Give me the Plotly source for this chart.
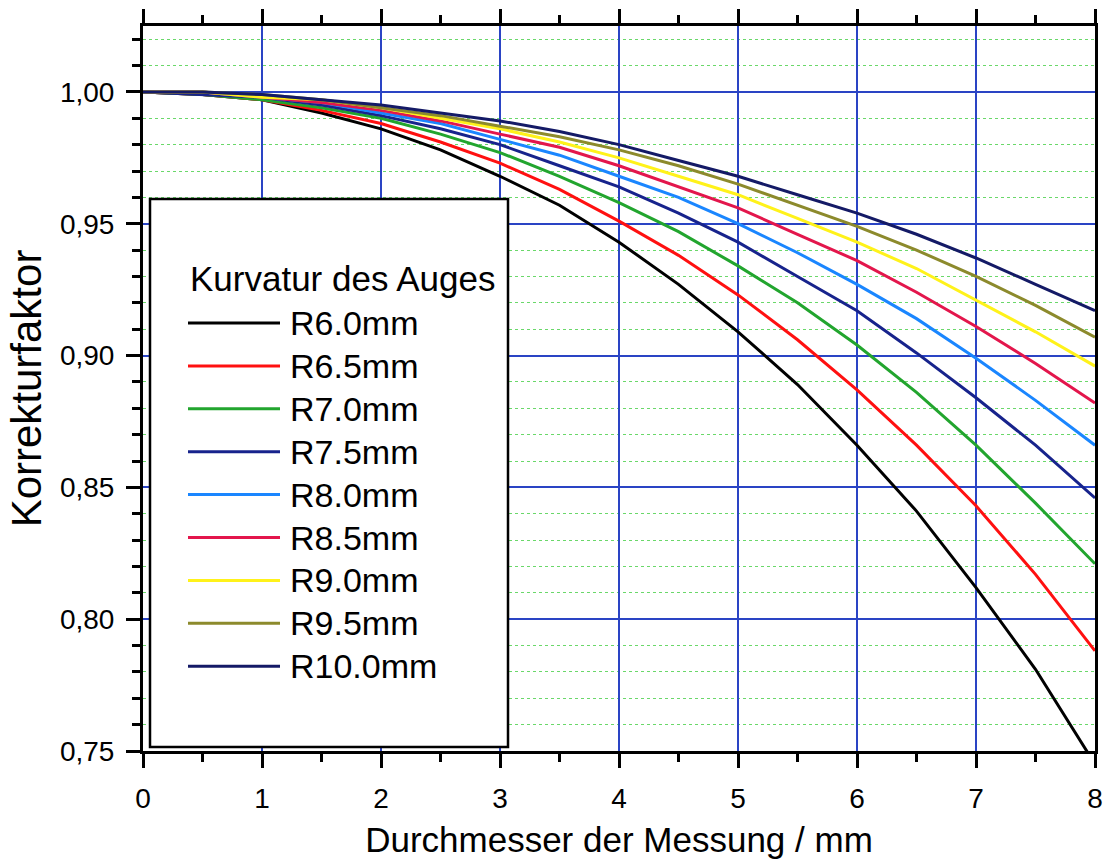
import plotly.graph_objects as go

# Measurement diameter (mm)
diameter = [0.0, 0.5, 1.0, 1.5, 2.0, 2.5, 3.0, 3.5, 4.0, 4.5, 5.0, 5.5, 6.0, 6.5, 7.0, 7.5, 8.0]

# Correction factor per eye radius of curvature
r6_0 = [1.000, 0.999, 0.997, 0.992, 0.986, 0.978, 0.968, 0.957, 0.943, 0.927, 0.909, 0.889, 0.866, 0.841, 0.812, 0.781, 0.745]
r6_5 = [1.000, 0.999, 0.997, 0.993, 0.988, 0.981, 0.973, 0.963, 0.951, 0.938, 0.923, 0.906, 0.887, 0.866, 0.843, 0.817, 0.788]
r7_0 = [1.000, 0.999, 0.997, 0.994, 0.990, 0.984, 0.977, 0.968, 0.958, 0.947, 0.934, 0.920, 0.904, 0.886, 0.866, 0.844, 0.821]
r7_5 = [1.000, 0.999, 0.998, 0.995, 0.991, 0.986, 0.980, 0.972, 0.964, 0.954, 0.943, 0.930, 0.917, 0.901, 0.884, 0.866, 0.846]
r8_0 = [1.000, 1.000, 0.998, 0.996, 0.992, 0.988, 0.982, 0.976, 0.968, 0.960, 0.950, 0.939, 0.927, 0.914, 0.899, 0.883, 0.866]
r8_5 = [1.000, 1.000, 0.998, 0.996, 0.993, 0.989, 0.984, 0.979, 0.972, 0.964, 0.956, 0.946, 0.936, 0.924, 0.911, 0.897, 0.882]
r9_0 = [1.000, 1.000, 0.998, 0.997, 0.994, 0.990, 0.986, 0.981, 0.975, 0.968, 0.961, 0.952, 0.943, 0.933, 0.921, 0.909, 0.896]
r9_5 = [1.000, 1.000, 0.999, 0.997, 0.994, 0.991, 0.987, 0.983, 0.978, 0.972, 0.965, 0.957, 0.949, 0.940, 0.930, 0.919, 0.907]
r10_0 = [1.000, 1.000, 0.999, 0.997, 0.995, 0.992, 0.989, 0.985, 0.980, 0.974, 0.968, 0.961, 0.954, 0.946, 0.937, 0.927, 0.917]

series_names = ["R6.0mm", "R6.5mm", "R7.0mm", "R7.5mm", "R8.0mm",
                "R8.5mm", "R9.0mm", "R9.5mm", "R10.0mm"]
series_values = [r6_0, r6_5, r7_0, r7_5, r8_0, r8_5, r9_0, r9_5, r10_0]
series_colors = ["#000000", "#ff1010", "#22a52e", "#17238c", "#1a86ff",
                 "#e3164c", "#fff21a", "#8c8a2c", "#141a66"]

legend_title = "Kurvatur des Auges"
x_title = "Durchmesser der Messung / mm"
y_title = "Korrekturfaktor"

FONT = "Arial, Liberation Sans, sans-serif"
GRID_BLUE = "#2a44c4"
GRID_GREEN = "#6ad86a"

fig = go.Figure()

for name, vals, col in zip(series_names, series_values, series_colors):
    fig.add_trace(go.Scatter(
        x=diameter, y=vals, mode="lines", name=name,
        line=dict(color=col, width=3), showlegend=False,
    ))

# Plot-area edges in pixels
L, R = 143, 1095
T, B = 26, 751


def px(xp):
    return (xp - L) / (R - L)


def py(yp):
    return (B - yp) / (B - T)


# Hand-built legend box with long line samples
shapes = [dict(type="rect", xref="paper", yref="paper",
               x0=px(150), x1=px(508), y0=py(747), y1=py(199),
               line=dict(color="black", width=2.5), fillcolor="white", layer="above")]
annotations = [dict(text=legend_title, xref="paper", yref="paper",
                    x=px(188), y=py(278), xanchor="left", yanchor="middle",
                    showarrow=False, font=dict(family=FONT, size=35, color="black"))]
for i, (name, col) in enumerate(zip(series_names, series_colors)):
    yc = 323 + 42.9 * i
    shapes.append(dict(type="line", xref="paper", yref="paper",
                       x0=px(188), x1=px(280), y0=py(yc), y1=py(yc),
                       line=dict(color=col, width=3), layer="above"))
    annotations.append(dict(text=name, xref="paper", yref="paper",
                            x=px(288), y=py(yc), xanchor="left", yanchor="middle",
                            showarrow=False,
                            font=dict(family=FONT, size=34, color="black")))

fig.update_layout(
    width=1107, height=859,
    margin=dict(l=L, r=1107 - R, t=T, b=859 - B),
    paper_bgcolor="white", plot_bgcolor="white",
    separators=",.",
    font=dict(family=FONT, color="black"),
    shapes=shapes, annotations=annotations,
    xaxis=dict(
        range=[0, 8], dtick=1, tick0=0, automargin=False,
        showline=True, linecolor="black", linewidth=3, mirror="ticks",
        ticks="outside", ticklen=14, tickwidth=3, tickcolor="black",
        showgrid=True, gridcolor=GRID_BLUE, gridwidth=1.5,
        zeroline=False,
        minor=dict(dtick=0.5, ticks="outside", ticklen=8, tickwidth=3,
                   tickcolor="black", showgrid=False),
        tickfont=dict(family=FONT, size=28, color="black"),
        ticklabelstandoff=6,
        title=dict(text=x_title, font=dict(family=FONT, size=35, color="black"),
                   standoff=25),
    ),
    yaxis=dict(
        range=[0.75, 1.025], dtick=0.05, tick0=0.75, tickformat=".2f",
        automargin=False,
        showline=True, linecolor="black", linewidth=3, mirror=True,
        ticks="outside", ticklen=14, tickwidth=3, tickcolor="black",
        showgrid=True, gridcolor=GRID_BLUE, gridwidth=1.5,
        zeroline=False,
        minor=dict(dtick=0.01, ticks="outside", ticklen=8, tickwidth=3,
                   tickcolor="black", showgrid=True, gridcolor=GRID_GREEN,
                   gridwidth=1.3, griddash="dot"),
        tickfont=dict(family=FONT, size=28, color="black"),
        ticklabelstandoff=6,
        title=dict(text=y_title, font=dict(family=FONT, size=42, color="black"),
                   standoff=6),
    ),
)

fig.write_html("out.html")
